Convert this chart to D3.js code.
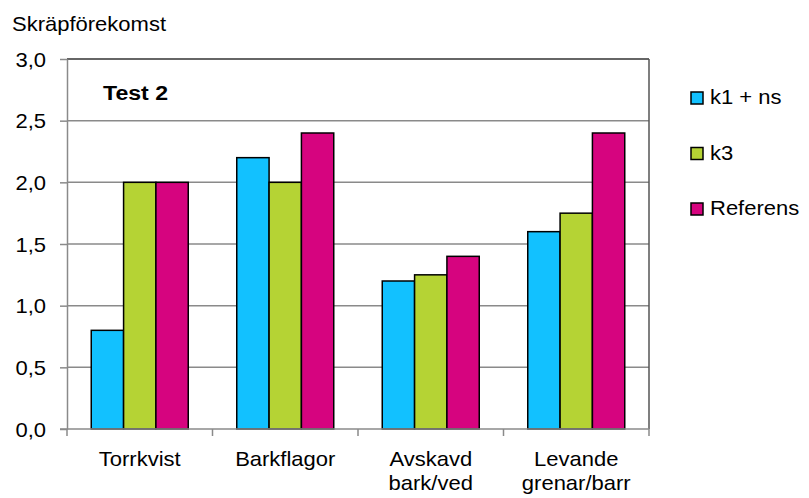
<!DOCTYPE html>
<html>
<head>
<meta charset="utf-8">
<script src="https://cdn.jsdelivr.net/npm/d3@7"></script>
<style>
  html, body { margin: 0; padding: 0; background: #fff; }
  svg text { font-family: "Liberation Sans", Arial, sans-serif; fill: #000; }
</style>
</head>
<body>
<svg id="chart" width="809" height="498"></svg>
<script>
// Category labels (split into lines) and series values
const categories = ["Torrkvist", "Barkflagor", "Avskavd bark/ved", "Levande grenar/barr"];
const categoryLines = [["Torrkvist"], ["Barkflagor"], ["Avskavd", "bark/ved"], ["Levande", "grenar/barr"]];
const seriesNames = ["k1 + ns", "k3", "Referens"];
const k1ns = [0.8, 2.2, 1.2, 1.6];
const k3 = [2.0, 2.0, 1.25, 1.75];
const referens = [2.0, 2.4, 1.4, 2.4];
const yTicks = [0, 0.5, 1.0, 1.5, 2.0, 2.5, 3.0];
const yLabel = "Skräpförekomst";
const panelTitle = "Test 2";

const colors = ["#12C1FF", "#B5D334", "#D6047F"];
const seriesValues = [k1ns, k3, referens];

const svg = d3.select("#chart");
const FS = 20, SX = 1.1;   // font size and horizontal text stretch

const plotLeft = 67, plotRight = 649, plotTop = 59, plotBottom = 429;

const y = d3.scaleLinear().domain([0, 3]).range([plotBottom, plotTop]);
const x = d3.scaleBand().domain(categories).range([plotLeft, plotRight])
  .paddingInner(1 / 3).paddingOuter(1 / 6);
const xs = d3.scaleBand().domain(seriesNames).range([0, x.bandwidth()]);

function stretchedText(g, tx, ty, str, anchor, weight, size) {
  return g.append("text")
    .attr("transform", `translate(${tx},${ty}) scale(${SX},1)`)
    .attr("text-anchor", anchor || "start")
    .style("font-size", (size || FS) + "px")
    .style("font-weight", weight || "normal")
    .text(str);
}

// Gridlines
svg.append("g").selectAll("line").data(yTicks.filter(d => d > 0 && d < 3)).join("line")
  .attr("x1", plotLeft).attr("x2", plotRight)
  .attr("y1", d => y(d)).attr("y2", d => y(d))
  .attr("stroke", "#8a8a8a").attr("stroke-width", 1.5);

// Plot frame: dark top and right edges
svg.append("line").attr("x1", plotLeft).attr("x2", plotRight).attr("y1", y(3)).attr("y2", y(3))
  .attr("stroke", "#333").attr("stroke-width", 1.5);
svg.append("line").attr("x1", plotRight).attr("x2", plotRight).attr("y1", y(3)).attr("y2", y(0))
  .attr("stroke", "#555").attr("stroke-width", 1.5);

// Bars
const groups = svg.append("g").selectAll("g").data(categories).join("g")
  .attr("transform", d => `translate(${x(d)},0)`);
groups.selectAll("rect")
  .data((d, i) => seriesNames.map((s, j) => ({ s, v: seriesValues[j][i], c: colors[j] })))
  .join("rect")
  .attr("x", d => xs(d.s)).attr("width", xs.bandwidth())
  .attr("y", d => y(d.v)).attr("height", d => y(0) - y(d.v))
  .attr("fill", d => d.c).attr("stroke", "#000").attr("stroke-width", 1.5);

// Y axis
const yAxis = svg.append("g").attr("transform", `translate(${plotLeft},0)`)
  .call(d3.axisLeft(y).tickValues(yTicks).tickSizeInner(7).tickSizeOuter(0)
    .tickFormat(d => d.toFixed(1).replace(".", ",")));
yAxis.select(".domain").attr("stroke", "#8a8a8a").attr("stroke-width", 1.5);
yAxis.selectAll(".tick line").attr("stroke", "#8a8a8a").attr("stroke-width", 1.5);
yAxis.selectAll(".tick text")
  .attr("x", -21 / SX).attr("dy", "0.36em")
  .attr("transform", `scale(${SX},1)`)
  .style("font-size", FS + "px").style("font-family", "'Liberation Sans', Arial, sans-serif");

// X axis line and group separator ticks
const step = x.step();
const edges = d3.range(categories.length + 1).map(i => x(categories[0]) - step * x.paddingOuter() + i * step);
svg.append("line").attr("x1", plotLeft - 7).attr("x2", plotRight).attr("y1", y(0)).attr("y2", y(0))
  .attr("stroke", "#8a8a8a").attr("stroke-width", 1.5);
svg.append("g").selectAll("line").data(edges).join("line")
  .attr("x1", d => d).attr("x2", d => d).attr("y1", y(0)).attr("y2", y(0) + 7)
  .attr("stroke", "#8a8a8a").attr("stroke-width", 1.5);

// Category labels
categories.forEach((c, i) => {
  const cx = x(c) + x.bandwidth() / 2;
  categoryLines[i].forEach((line, k) => {
    stretchedText(svg, cx, 466 + k * 24, line, "middle");
  });
});

// Titles
stretchedText(svg, 12, 31, yLabel, "start");
stretchedText(svg, 103, 100, panelTitle, "start", "bold", 21);

// Legend
const legend = svg.append("g").selectAll("g").data(seriesNames).join("g")
  .attr("transform", (d, i) => `translate(691,${104 + i * 55.5})`);
legend.append("rect").attr("x", 0).attr("y", -12).attr("width", 12).attr("height", 12)
  .attr("fill", (d, i) => colors[i]).attr("stroke", "#000").attr("stroke-width", 1.5);
legend.each(function (d) {
  stretchedText(d3.select(this), 19, 0, d, "start");
});
</script>
</body>
</html>
